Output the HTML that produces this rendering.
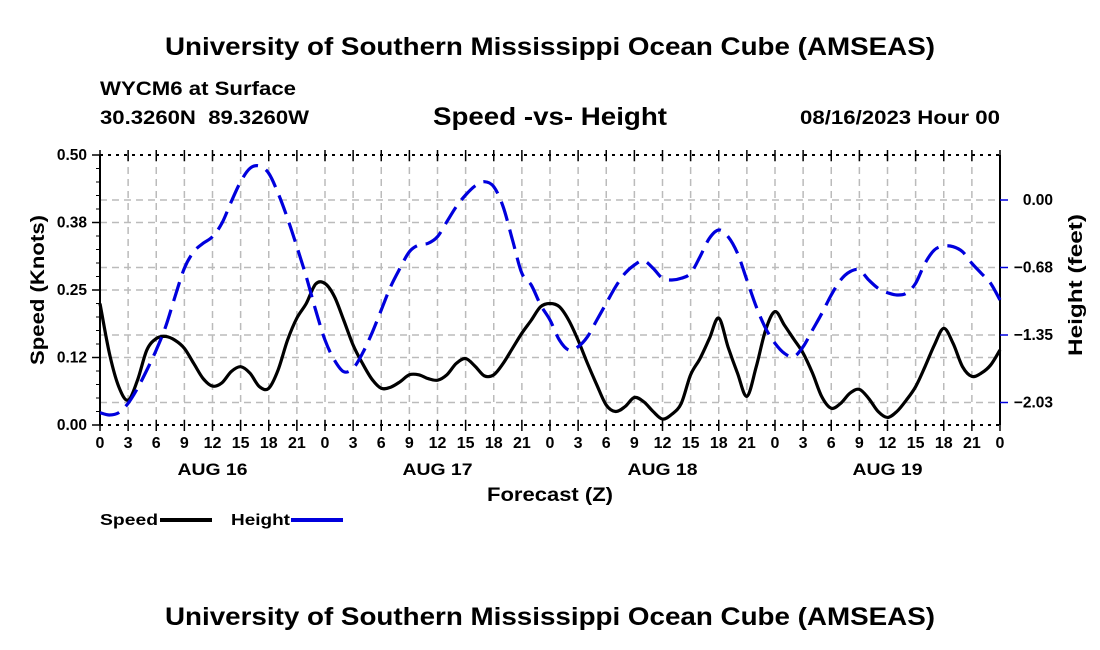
<!DOCTYPE html>
<html><head><meta charset="utf-8">
<style>
html,body{margin:0;padding:0;background:#fff;}
svg{display:block;font-family:"Liberation Sans",Arial,sans-serif;font-weight:bold;}
</style></head>
<body>
<svg id="chart" width="1100" height="650" viewBox="0 0 1100 650" xmlns="http://www.w3.org/2000/svg">
<text x="165" y="55" font-size="25" textLength="770" lengthAdjust="spacingAndGlyphs">University of Southern Mississippi Ocean Cube (AMSEAS)</text>
<text x="100" y="95" font-size="19" textLength="196" lengthAdjust="spacingAndGlyphs">WYCM6 at Surface</text>
<text x="100" y="124" font-size="19" textLength="209" lengthAdjust="spacingAndGlyphs" xml:space="preserve">30.3260N  89.3260W</text>
<text x="433" y="125" font-size="25" textLength="234" lengthAdjust="spacingAndGlyphs">Speed -vs- Height</text>
<text x="800" y="124" font-size="19" textLength="200" lengthAdjust="spacingAndGlyphs">08/16/2023 Hour 00</text>
<g id="grid"></g>
<g id="axes"></g>
<g id="series"></g>
<text transform="translate(44,290) rotate(-90)" text-anchor="middle" font-size="19" textLength="150" lengthAdjust="spacingAndGlyphs">Speed (Knots)</text>
<text transform="translate(1082,285) rotate(-90)" text-anchor="middle" font-size="19" textLength="142" lengthAdjust="spacingAndGlyphs">Height (feet)</text>
<text x="487" y="501" font-size="19" textLength="126" lengthAdjust="spacingAndGlyphs">Forecast (Z)</text>
<g>
<text x="100" y="525" font-size="16" textLength="58" lengthAdjust="spacingAndGlyphs">Speed</text>
<line x1="160" y1="520" x2="212" y2="520" stroke="#000" stroke-width="4"/>
</g>
<g>
<text x="231" y="525" font-size="16" textLength="59" lengthAdjust="spacingAndGlyphs">Height</text>
<line x1="291" y1="520" x2="343" y2="520" stroke="#0000dd" stroke-width="4"/>
</g>
<text x="165" y="625" font-size="25" textLength="770" lengthAdjust="spacingAndGlyphs">University of Southern Mississippi Ocean Cube (AMSEAS)</text>
</svg>
<script>
const speedValues=[0.225,0.133,0.071,0.046,0.083,0.139,0.16,0.164,0.157,0.142,0.114,0.086,0.072,0.078,0.099,0.108,0.096,0.071,0.068,0.102,0.157,0.198,0.225,0.261,0.262,0.238,0.194,0.148,0.114,0.085,0.068,0.07,0.08,0.093,0.093,0.086,0.083,0.093,0.114,0.123,0.109,0.091,0.093,0.114,0.142,0.17,0.194,0.219,0.225,0.219,0.194,0.157,0.114,0.074,0.037,0.025,0.034,0.051,0.043,0.025,0.011,0.020,0.040,0.093,0.123,0.160,0.198,0.144,0.096,0.053,0.108,0.176,0.210,0.185,0.159,0.133,0.096,0.052,0.031,0.040,0.059,0.066,0.049,0.025,0.014,0.025,0.046,0.071,0.108,0.148,0.179,0.151,0.108,0.090,0.096,0.111,0.139];
const heightValues=[-2.127,-2.15,-2.127,-2.033,-1.883,-1.70,-1.50,-1.267,-0.967,-0.683,-0.517,-0.433,-0.367,-0.233,-0.017,0.183,0.317,0.34,0.267,0.067,-0.183,-0.467,-0.767,-1.10,-1.40,-1.60,-1.717,-1.683,-1.533,-1.333,-1.10,-0.867,-0.683,-0.517,-0.45,-0.433,-0.367,-0.217,-0.067,0.05,0.14,0.183,0.133,-0.067,-0.40,-0.733,-0.85,-1.05,-1.20,-1.40,-1.50,-1.467,-1.367,-1.20,-1.033,-0.867,-0.733,-0.65,-0.607,-0.683,-0.783,-0.80,-0.783,-0.733,-0.567,-0.383,-0.30,-0.367,-0.533,-0.80,-1.067,-1.283,-1.433,-1.533,-1.567,-1.467,-1.30,-1.133,-0.95,-0.80,-0.717,-0.70,-0.80,-0.883,-0.927,-0.95,-0.933,-0.833,-0.633,-0.50,-0.46,-0.467,-0.517,-0.633,-0.733,-0.833,-1.00];
const speedTicks=[0,0.125,0.25,0.375,0.5];
const speedTickLabels=["0.00","0.12","0.25","0.38","0.50"];
const heightTicks=[0,-0.675,-1.35,-2.025];
const heightTickLabels=["0.00","\u22120.68","\u22121.35","\u22122.03"];
const hourTickLabels=["0","3","6","9","12","15","18","21"];
const dayLabels=["AUG 16","AUG 17","AUG 18","AUG 19"];

const NS="http://www.w3.org/2000/svg";
const L=100,R=1000,T=155,B=425,HOURS=96;
const sMin=0,sMax=0.5,hMin=-2.25,hMax=0.45;
const xs=h=>L+(R-L)*h/HOURS;
const ys=v=>B-(B-T)*(v-sMin)/(sMax-sMin);
const yh=v=>B-(B-T)*(v-hMin)/(hMax-hMin);
function mk(tag,attrs,parent){const e=document.createElementNS(NS,tag);for(const k in attrs)e.setAttribute(k,attrs[k]);parent.appendChild(e);return e;}
const grid=document.getElementById('grid'),axes=document.getElementById('axes'),series=document.getElementById('series');
for(let h=3;h<HOURS;h+=3){const g=mk('line',{x1:xs(h),x2:xs(h),y1:T,y2:B,stroke:'#bbb','stroke-width':1.5,'stroke-dasharray':'7,5'},grid);

}
speedTicks.forEach(v=>{if(v>0&&v<0.5){const g=mk('line',{x1:L,x2:R,y1:ys(v),y2:ys(v),stroke:'#bbb','stroke-width':1.5,'stroke-dasharray':'7,5'},grid);

}});
heightTicks.forEach(v=>{const g=mk('line',{x1:L,x2:R,y1:yh(v),y2:yh(v),stroke:'#bbb','stroke-width':1.5,'stroke-dasharray':'7,5'},grid);

});
mk('line',{x1:L,x2:R,y1:T,y2:T,stroke:'#000','stroke-width':2,'stroke-dasharray':'3,5'},axes);
mk('line',{x1:L,x2:R,y1:B,y2:B,stroke:'#000','stroke-width':2,'stroke-dasharray':'3,5'},axes);
mk('line',{x1:L,x2:L,y1:T,y2:B,stroke:'#000','stroke-width':2},axes);
mk('line',{x1:R,x2:R,y1:T,y2:B,stroke:'#000','stroke-width':2},axes);
for(let h=0;h<=HOURS;h+=3){
 mk('line',{x1:xs(h),x2:xs(h),y1:B-5,y2:B+6,stroke:'#000','stroke-width':1.5},axes);
 mk('line',{x1:xs(h),x2:xs(h),y1:T-5,y2:T+6,stroke:'#000','stroke-width':1.5},axes);
 const t=mk('text',{x:xs(h),y:448,'text-anchor':'middle','font-size':16},axes);
 t.textContent=hourTickLabels[(h/3)%8];
 
 
}
dayLabels.forEach((d,i)=>{const t=mk('text',{x:xs(i*24+12)-35,y:475,'font-size':17,textLength:70,lengthAdjust:'spacingAndGlyphs'},axes);t.textContent=d;

});
speedTicks.forEach((v,i)=>{mk('line',{x1:L-8,x2:L,y1:ys(v),y2:ys(v),stroke:'#000','stroke-width':1.5},axes);
 const t=mk('text',{x:L-13,y:ys(v)+5,'text-anchor':'end','font-size':15.5},axes);t.textContent=speedTickLabels[i];
 
 });
for(let v=0.025;v<0.5;v+=0.025){mk('line',{x1:L-4,x2:L,y1:ys(v),y2:ys(v),stroke:'#000','stroke-width':1},axes);}
heightTicks.forEach((v,i)=>{mk('line',{x1:R,x2:R+8,y1:yh(v),y2:yh(v),stroke:'#0000dd','stroke-width':1.5},axes);
 const t=mk('text',{x:1053,y:yh(v)+5,'text-anchor':'end','font-size':15.5},axes);t.textContent=heightTickLabels[i];
 
 });
function smooth(pts){let d='M'+pts[0][0]+','+pts[0][1];
 for(let i=0;i<pts.length-1;i++){const p0=pts[i-1]||pts[i],p1=pts[i],p2=pts[i+1],p3=pts[i+2]||p2;
  d+=' C'+(p1[0]+(p2[0]-p0[0])/6)+','+(p1[1]+(p2[1]-p0[1])/6)+' '+(p2[0]-(p3[0]-p1[0])/6)+','+(p2[1]-(p3[1]-p1[1])/6)+' '+p2[0]+','+p2[1];}
 return d;}
const sp=mk('path',{d:smooth(speedValues.map((v,i)=>[xs(i),ys(v)])),fill:'none',stroke:'#000','stroke-width':3.2},series);


const hp=mk('path',{d:smooth(heightValues.map((v,i)=>[xs(i),yh(v)])),fill:'none',stroke:'#0000dd','stroke-width':3.2,'stroke-dasharray':'20,9'},series);


</script>
</body></html>
